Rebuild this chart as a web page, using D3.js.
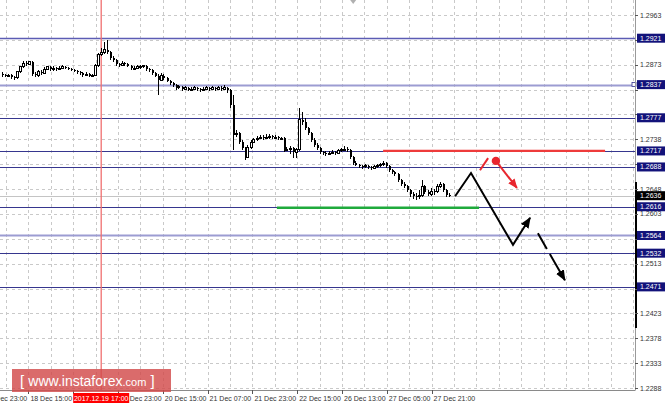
<!DOCTYPE html>
<html><head><meta charset="utf-8">
<script src="https://cdn.jsdelivr.net/npm/d3@7"></script>
<style>
html,body{margin:0;padding:0;background:#fff;overflow:hidden}
svg{display:block;font-family:"Liberation Sans",Arial,sans-serif}
</style></head>
<body><svg id="c" width="665" height="406"></svg>
<script>
// ---------- DATA ----------
const firstOpen = 1.2856;
const closes = [1.2854,1.2853,1.2854,1.2851,1.2849,1.2860,1.2869,1.2876,1.2874,1.2878,
1.2856,1.2854,1.2860,1.2858,1.2865,1.2869,1.2865,1.2867,1.2865,1.2867,
1.2869,1.2867,1.2865,1.2863,1.2862,1.2860,1.2858,1.2854,1.2856,1.2853,
1.2854,1.2871,1.2891,1.2896,1.2900,1.2896,1.2885,1.2882,1.2874,1.2872,
1.2876,1.2874,1.2871,1.2867,1.2867,1.2869,1.2869,1.2871,1.2865,1.2863,
1.2858,1.2853,1.2845,1.2853,1.2849,1.2844,1.2840,1.2836,1.2831,1.2833,
1.2829,1.2831,1.2827,1.2829,1.2831,1.2829,1.2827,1.2829,1.2831,1.2829,
1.2831,1.2829,1.2831,1.2829,1.2831,1.2827,1.2800,1.2746,1.2749,1.2733,
1.2722,1.2706,1.2724,1.2733,1.2737,1.2740,1.2742,1.2740,1.2742,1.2744,
1.2742,1.2742,1.2740,1.2740,1.2719,1.2720,1.2722,1.2715,1.2719,1.2773,
1.2769,1.2758,1.2749,1.2737,1.2728,1.2722,1.2715,1.2713,1.2711,1.2713,
1.2715,1.2713,1.2717,1.2719,1.2720,1.2719,1.2706,1.2695,1.2692,1.2690,
1.2688,1.2690,1.2688,1.2686,1.2688,1.2690,1.2692,1.2695,1.2690,1.2682,
1.2679,1.2675,1.2664,1.2657,1.2653,1.2646,1.2639,1.2635,1.2634,1.2637,
1.2653,1.2643,1.2639,1.2644,1.2643,1.2653,1.2657,1.2646,1.2637,1.2636];
const highs = [1.2859,1.2857,1.2857,1.2856,1.2853,1.2862,1.2871,1.2880,1.2879,1.2880,
1.2880,1.2859,1.2863,1.2864,1.2868,1.2871,1.2871,1.2870,1.2869,1.2871,
1.2872,1.2871,1.2869,1.2867,1.2865,1.2864,1.2862,1.2860,1.2859,1.2858,
1.2857,1.2874,1.2894,1.2903,1.2914,1.2918,1.2898,1.2888,1.2884,1.2877,
1.2879,1.2878,1.2876,1.2873,1.2870,1.2872,1.2872,1.2873,1.2873,1.2867,
1.2865,1.2860,1.2856,1.2858,1.2856,1.2851,1.2846,1.2842,1.2838,1.2836,
1.2835,1.2834,1.2833,1.2832,1.2834,1.2833,1.2831,1.2832,1.2835,1.2833,
1.2834,1.2833,1.2835,1.2834,1.2836,1.2833,1.2829,1.2818,1.2755,1.2751,
1.2736,1.2724,1.2727,1.2736,1.2740,1.2744,1.2746,1.2745,1.2747,1.2747,
1.2746,1.2745,1.2744,1.2743,1.2742,1.2724,1.2726,1.2724,1.2722,1.2795,
1.2787,1.2776,1.2761,1.2751,1.2740,1.2731,1.2724,1.2717,1.2716,1.2716,
1.2718,1.2717,1.2720,1.2722,1.2726,1.2724,1.2721,1.2708,1.2698,1.2694,
1.2692,1.2693,1.2692,1.2690,1.2691,1.2693,1.2695,1.2699,1.2697,1.2692,
1.2684,1.2681,1.2677,1.2666,1.2660,1.2655,1.2648,1.2642,1.2640,1.2646,
1.2664,1.2656,1.2646,1.2650,1.2648,1.2657,1.2661,1.2659,1.2648,1.2640];
const lows = [1.2851,1.2850,1.2850,1.2848,1.2845,1.2847,1.2858,1.2867,1.2871,1.2872,
1.2852,1.2850,1.2851,1.2855,1.2856,1.2863,1.2862,1.2862,1.2862,1.2863,
1.2865,1.2865,1.2863,1.2861,1.2859,1.2857,1.2855,1.2851,1.2852,1.2850,
1.2850,1.2852,1.2869,1.2888,1.2893,1.2892,1.2882,1.2878,1.2871,1.2869,
1.2870,1.2871,1.2868,1.2864,1.2864,1.2865,1.2866,1.2867,1.2862,1.2860,
1.2855,1.2850,1.2818,1.2843,1.2846,1.2841,1.2837,1.2833,1.2828,1.2829,
1.2826,1.2827,1.2825,1.2825,1.2827,1.2826,1.2824,1.2825,1.2827,1.2826,
1.2827,1.2826,1.2827,1.2826,1.2827,1.2822,1.2795,1.2719,1.2742,1.2729,
1.2718,1.2701,1.2704,1.2721,1.2731,1.2735,1.2738,1.2737,1.2738,1.2739,
1.2739,1.2739,1.2737,1.2736,1.2715,1.2716,1.2712,1.2704,1.2704,1.2716,
1.2764,1.2754,1.2745,1.2733,1.2725,1.2718,1.2712,1.2710,1.2708,1.2709,
1.2711,1.2710,1.2711,1.2715,1.2716,1.2715,1.2702,1.2692,1.2689,1.2687,
1.2685,1.2686,1.2685,1.2683,1.2684,1.2686,1.2688,1.2690,1.2687,1.2679,
1.2676,1.2672,1.2661,1.2654,1.2650,1.2643,1.2634,1.2630,1.2628,1.2630,
1.2634,1.2639,1.2635,1.2636,1.2638,1.2640,1.2650,1.2643,1.2634,1.2633];

const priceTicks = [1.2963,1.2918,1.2873,1.2828,1.2783,1.2738,1.2693,1.2648,1.2603,1.2558,1.2513,1.2468,1.2423,1.2378,1.2333,1.2288];
const levels = [1.2921,1.2837,1.2777,1.2717,1.2688,1.2616,1.2564,1.2532,1.2471];
const bidPrice = 1.2636;

// time axis (hours since 18 Dec 07:00, weekend skipped)
const timeTickHours = [-8,8,24,40,56,72,88,104,120,136,152];
const timeTickLabels = ["17 Dec 23:00","18 Dec 15:00","19 Dec 07:00","19 Dec 23:00","20 Dec 15:00","21 Dec 07:00","21 Dec 23:00","22 Dec 15:00","26 Dec 13:00","27 Dec 05:00","27 Dec 21:00"];
const markerHour = 34; const markerLabel = "2017.12.19 17:00";

// analysis drawings (bar index, price)
const resistance = {from:127.2, to:201.2, price:1.2717};
const support = {from:91.8, to:159.2, price:1.2615};
const blackPath = [[151.2,1.2635],[156.5,1.2677],[170.5,1.2547],[176.2,1.2596]];
const blackDashed = [[178.8,1.2568],[187.8,1.2483]];
const redStub = [[159.5,1.2682],[162.2,1.2704]];
const redArrow = [[164.8,1.2699],[171.8,1.2650]];

// ---------- CHART ----------
const svg = d3.select("#c");
const plotR = 635, plotB = 390;
const y = d3.scaleLinear().domain([1.2288,1.2963]).range([388,15]);
const xBar = d3.scaleLinear().domain([0,149]).range([1.5,448.5]);
const xTime = d3.scaleLinear().domain([0,8]).range([6,28.4]);
const lightLevels = new Set([1.2837,1.2564]);

const defs = svg.append("defs");
function marker(id,color,len,wid){
  defs.append("marker").attr("id",id).attr("markerUnits","userSpaceOnUse")
    .attr("markerWidth",len).attr("markerHeight",wid).attr("refX",len-1).attr("refY",wid/2)
    .attr("orient","auto").append("path").attr("d",`M0,0L${len},${wid/2}L0,${wid}Z`).attr("fill",color);
}
marker("ab","#000",11,9); marker("ar","#e8262e",10,8);

// grid
const g = svg.append("g");
const gridHours = d3.range(0,225,8);
g.selectAll(".vg").data(gridHours).join("line")
  .attr("x1",d=>Math.round(xTime(d))+0.5).attr("x2",d=>Math.round(xTime(d))+0.5)
  .attr("y1",0).attr("y2",plotB).attr("stroke","#c9c9c9").attr("stroke-dasharray","3,3");
g.selectAll(".hg").data(priceTicks).join("line")
  .attr("x1",0).attr("x2",plotR).attr("y1",d=>Math.round(y(d))+0.5).attr("y2",d=>Math.round(y(d))+0.5)
  .attr("stroke","#c9c9c9").attr("stroke-dasharray","3,3");

// level lines
svg.append("g").selectAll("line").data(levels).join("line")
  .attr("x1",0).attr("x2",plotR)
  .attr("y1",d=>Math.round(y(d))+0.5).attr("y2",d=>Math.round(y(d))+0.5)
  .attr("stroke",d=>lightLevels.has(d)?"#9c9cd2":(d===1.2921?"#5c5cb4":"#36368e"))
  .attr("stroke-width",d=>lightLevels.has(d)?2:(d===1.2921?1.5:1));
svg.append("rect").attr("x",plotR-3).attr("y",Math.round(y(1.2837))-2.5).attr("width",4).attr("height",4)
  .attr("fill","#fff").attr("stroke","#36368e").attr("stroke-width",0.8);

// bid line
svg.append("line").attr("x1",0).attr("x2",plotR).attr("y1",Math.round(y(bidPrice))+0.5).attr("y2",Math.round(y(bidPrice))+0.5)
  .attr("stroke","#c4c4c4");

// marker vertical line
svg.append("line").attr("x1",xTime(markerHour)).attr("x2",xTime(markerHour)).attr("y1",0).attr("y2",plotB)
  .attr("stroke","#f07070").attr("stroke-width",1.3);

// candles
const bars = closes.map((c,i)=>({i,o:i?closes[i-1]:firstOpen,c,h:highs[i],l:lows[i]}));
const cg = svg.append("g").attr("shape-rendering","crispEdges");
cg.selectAll("line").data(bars).join("line")
  .attr("x1",d=>Math.round(xBar(d.i))+0.5).attr("x2",d=>Math.round(xBar(d.i))+0.5)
  .attr("y1",d=>y(d.h)).attr("y2",d=>y(d.l)).attr("stroke","#000");
cg.selectAll("rect").data(bars).join("rect")
  .attr("x",d=>Math.round(xBar(d.i))-0.5).attr("width",2)
  .attr("y",d=>y(Math.max(d.o,d.c))).attr("height",d=>Math.max(1,Math.abs(y(d.o)-y(d.c))))
  .attr("fill",d=>d.c>=d.o?"#fff":"#000").attr("stroke","#000").attr("stroke-width",d=>d.c>=d.o?1:0);

// support / resistance
svg.append("line").attr("x1",xBar(resistance.from)).attr("x2",xBar(resistance.to))
  .attr("y1",y(resistance.price)).attr("y2",y(resistance.price)).attr("stroke","#ee3b3b").attr("stroke-width",2.2);
svg.append("line").attr("x1",xBar(support.from)).attr("x2",xBar(support.to))
  .attr("y1",y(support.price)+0.5).attr("y2",y(support.price)+0.5).attr("stroke","#1faa3c").attr("stroke-width",2.6);

// forecast drawings
const ln = d3.line().x(d=>xBar(d[0])).y(d=>y(d[1]));
svg.append("path").attr("d",ln(blackPath)).attr("fill","none").attr("stroke","#000").attr("stroke-width",2)
  .attr("stroke-linejoin","miter").attr("marker-end","url(#ab)");
svg.append("path").attr("d",ln(blackDashed)).attr("fill","none").attr("stroke","#000").attr("stroke-width",2)
  .attr("stroke-dasharray","18,6,100").attr("marker-end","url(#ab)");
svg.append("path").attr("d",ln(redStub)).attr("fill","none").attr("stroke","#e8262e").attr("stroke-width",2);
svg.append("path").attr("d",ln(redArrow)).attr("fill","none").attr("stroke","#e8262e").attr("stroke-width",2)
  .attr("marker-end","url(#ar)");
svg.append("circle").attr("cx",xBar(redArrow[0][0])).attr("cy",y(redArrow[0][1])).attr("r",4.2).attr("fill","#e8262e");

// small top triangle
svg.append("path").attr("d",`M${xTime(124)-3},0L${xTime(124)+3},0L${xTime(124)},4Z`).attr("fill","#b0b0b0");

// axes
svg.append("line").attr("x1",0).attr("x2",plotR+0.5).attr("y1",plotB+0.5).attr("y2",plotB+0.5).attr("stroke","#8a8a8a");
svg.append("line").attr("x1",plotR+0.5).attr("x2",plotR+0.5).attr("y1",0).attr("y2",plotB).attr("stroke","#9a9a9a");
svg.append("line").attr("x1",plotR+1).attr("x2",plotR+1).attr("y1",182).attr("y2",328).attr("stroke","#000").attr("stroke-width",2);

// price tick labels (those hidden behind a level tag are not drawn)
const tagged = levels.concat([bidPrice]);
const freeTicks = priceTicks.filter(t=>d3.min(tagged,l=>Math.abs(y(l)-y(t)))>5.5);
const ya = svg.append("g").attr("font-size","7px").attr("fill","#333");
ya.selectAll("line").data(priceTicks).join("line")
  .attr("x1",plotR).attr("x2",plotR+3).attr("y1",d=>Math.round(y(d))+0.5).attr("y2",d=>Math.round(y(d))+0.5).attr("stroke","#555");
ya.selectAll("text").data(freeTicks).join("text")
  .attr("x",plotR+5).attr("y",d=>y(d)+2.5).text(d=>d.toFixed(4));

// time labels (the one covered by the marker tag is not drawn)
const mx = xTime(markerHour);
const timeTicks = timeTickHours.map((h,i)=>({h,t:timeTickLabels[i]}));
const freeTime = timeTicks.filter(d=>Math.abs(xTime(d.h)+20-mx)>30);
const xa = svg.append("g").attr("font-size","7px").attr("fill","#333");
xa.selectAll("line").data(timeTicks).join("line")
  .attr("x1",d=>Math.round(xTime(d.h))+0.5).attr("x2",d=>Math.round(xTime(d.h))+0.5)
  .attr("y1",plotB).attr("y2",plotB+4).attr("stroke","#555");
xa.selectAll("text").data(freeTime).join("text")
  .attr("x",d=>xTime(d.h)+2).attr("y",401).text(d=>d.t);

// level labels
const lb = svg.append("g").attr("font-size","7px");
lb.selectAll("rect").data(levels).join("rect")
  .attr("x",plotR+2).attr("y",d=>y(d)-4.5).attr("width",28).attr("height",9).attr("fill","#12127a");
lb.selectAll("text").data(levels).join("text")
  .attr("x",plotR+5).attr("y",d=>y(d)+2.5).attr("fill","#fff").text(d=>d.toFixed(4));
svg.append("rect").attr("x",plotR+2).attr("y",y(bidPrice)-4.5).attr("width",28).attr("height",9).attr("fill","#000");
svg.append("text").attr("x",plotR+5).attr("y",y(bidPrice)+2.5).attr("fill","#fff").attr("font-size","7px").text(bidPrice.toFixed(4));

// watermark
const wm = svg.append("g");
wm.append("rect").attr("x",12).attr("y",369).attr("width",159).attr("height",23).attr("fill","#d24a4a").attr("opacity",0.82);
const wt = wm.append("text").attr("x",20).attr("y",386).attr("fill","#fff");
wt.append("tspan").attr("font-size","15px").text("[ ");
wt.append("tspan").attr("font-size","14px").text("www.instaforex");
wt.append("tspan").attr("font-size","11px").text(".com");
wt.append("tspan").attr("font-size","15px").text("  ]");

// marker time label
svg.append("rect").attr("x",mx-28).attr("y",393).attr("width",56).attr("height",10).attr("fill","#ff0000");
svg.append("text").attr("x",mx).attr("y",401).attr("text-anchor","middle").attr("font-size","7px").attr("fill","#fff").text(markerLabel);
</script></body></html>
